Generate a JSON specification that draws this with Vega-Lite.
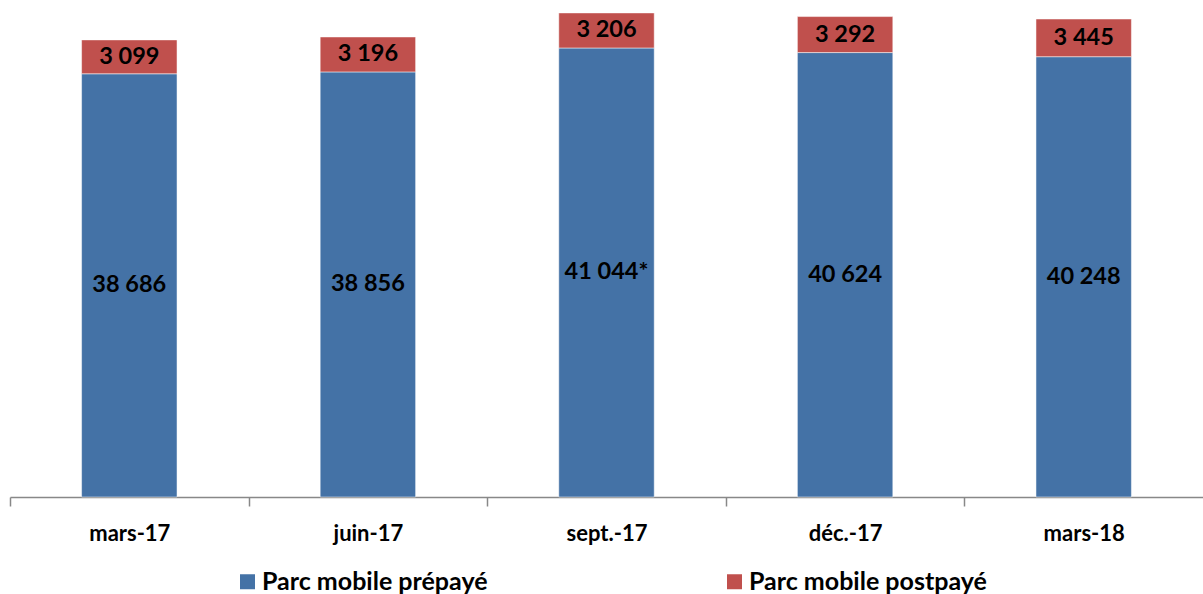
{
  "$schema": "https://vega.github.io/schema/vega-lite/v6.json",
  "width": 1193,
  "height": 497,
  "autosize": "none",
  "padding": {"left": 10, "top": 0, "right": 0, "bottom": 97},
  "config": {"view": {"stroke": null}, "font": "Lato"},
  "data": {
    "values": [
      {"date": "mars-17", "serie": "Parc mobile prépayé", "ordre": 1, "valeur": 38686, "label": "38 686"},
      {"date": "mars-17", "serie": "Parc mobile postpayé", "ordre": 2, "valeur": 3099, "label": "3 099"},
      {"date": "juin-17", "serie": "Parc mobile prépayé", "ordre": 1, "valeur": 38856, "label": "38 856"},
      {"date": "juin-17", "serie": "Parc mobile postpayé", "ordre": 2, "valeur": 3196, "label": "3 196"},
      {"date": "sept.-17", "serie": "Parc mobile prépayé", "ordre": 1, "valeur": 41044, "label": "41 044*"},
      {"date": "sept.-17", "serie": "Parc mobile postpayé", "ordre": 2, "valeur": 3206, "label": "3 206"},
      {"date": "déc.-17", "serie": "Parc mobile prépayé", "ordre": 1, "valeur": 40624, "label": "40 624"},
      {"date": "déc.-17", "serie": "Parc mobile postpayé", "ordre": 2, "valeur": 3292, "label": "3 292"},
      {"date": "mars-18", "serie": "Parc mobile prépayé", "ordre": 1, "valeur": 40248, "label": "40 248"},
      {"date": "mars-18", "serie": "Parc mobile postpayé", "ordre": 2, "valeur": 3445, "label": "3 445"}
    ]
  },
  "transform": [
    {"stack": "valeur", "groupby": ["date"], "sort": [{"field": "ordre"}], "as": ["y0", "y1"]},
    {"calculate": "(datum.y0 + datum.y1) / 2", "as": "ymid"}
  ],
  "encoding": {
    "x": {
      "field": "date",
      "type": "nominal",
      "sort": ["mars-17", "juin-17", "sept.-17", "déc.-17", "mars-18"],
      "scale": {"paddingInner": 0.6, "paddingOuter": 0.3},
      "axis": {
        "title": null,
        "labelAngle": 0,
        "labelFont": "Lato",
        "labelFontSize": 22,
        "labelFontWeight": "bold",
        "labelColor": "#000000",
        "labelPadding": 17,
        "labelOffset": 119.3,
        "domainColor": "#888888",
        "domainWidth": 1.5,
        "ticks": true,
        "tickColor": "#888888",
        "tickWidth": 1.5,
        "tickSize": 9,
        "tickOffset": -119.3
      }
    }
  },
  "layer": [
    {
      "mark": {"type": "bar", "stroke": "#ffffff", "strokeWidth": 0.5},
      "encoding": {
        "y": {"field": "y0", "type": "quantitative", "scale": {"domain": [0, 45430]}, "axis": null},
        "y2": {"field": "y1"},
        "color": {
          "field": "serie",
          "type": "nominal",
          "scale": {"domain": ["Parc mobile prépayé", "Parc mobile postpayé"], "range": ["#4472A6", "#C0504D"]},
          "legend": {
            "title": null,
            "orient": "none",
            "direction": "horizontal",
            "legendX": 225,
            "legendY": 569,
            "symbolType": "square",
            "symbolSize": 225,
            "symbolStrokeWidth": 0,
            "labelFont": "Lato",
            "labelFontSize": 25,
            "labelFontWeight": "bold",
            "labelColor": "#000000",
            "labelLimit": 400,
            "columnPadding": 234,
            "labelOffset": 2
          }
        }
      }
    },
    {
      "mark": {"type": "text", "font": "Lato", "fontSize": 23.5, "fontWeight": "bold", "color": "#000000", "baseline": "middle"},
      "encoding": {
        "y": {"field": "ymid", "type": "quantitative", "scale": {"domain": [0, 45430]}},
        "text": {"field": "label"}
      }
    }
  ]
}
